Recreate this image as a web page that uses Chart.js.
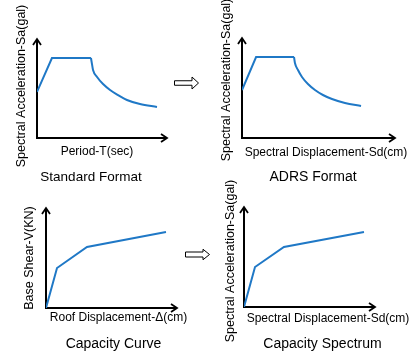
<!DOCTYPE html>
<html><head><meta charset="utf-8">
<script src="https://cdn.jsdelivr.net/npm/chart.js@4/dist/chart.umd.min.js"></script>
<style>
html,body{margin:0;padding:0;background:#fff;}
#wrap{position:relative;width:412px;height:360px;overflow:hidden;background:#fff;}
#wrap canvas{position:absolute;left:0;top:0;}
</style></head><body>
<div id="wrap">
<canvas id="c1" width="412" height="360"></canvas>
<canvas id="c2" width="412" height="360"></canvas>
<canvas id="c3" width="412" height="360"></canvas>
<canvas id="c4" width="412" height="360"></canvas>
</div>
<script>
// ---- data (schematic units, axis length = 10) ----
const standardPeriod = [0, 1.15, 4.15, 4.23, 4.31, 4.62, 5.08, 5.62, 6.23, 6.92, 7.92, 9.23];
const standardSa     = [4.65, 8.08, 8.08, 7.47, 6.87, 6.16, 5.45, 4.85, 4.34, 3.84, 3.43, 3.13];
const adrsSd         = [0, 0.92, 3.40, 3.46, 3.66, 3.92, 4.31, 4.77, 5.29, 5.88, 6.73, 7.78];
const adrsSa         = [4.8, 8.1, 8.1, 7.5, 6.8, 6.1, 5.4, 4.8, 4.3, 3.9, 3.5, 3.2];
const capacityRoofDisp  = [0, 0.84, 3.13, 9.16];
const capacityBaseShear = [0, 4.0, 6.1, 7.6];
const spectrumSd        = [0, 0.84, 3.05, 9.16];
const spectrumSa        = [0, 4.0, 6.0, 7.5];

const titles = {
  standard: {y: 'Spectral Acceleration-Sa(gal)', x: 'Period-T(sec)', caption: 'Standard Format'},
  adrs:     {y: 'Spectral Acceleration-Sa(gal)', x: 'Spectral Displacement-Sd(cm)', caption: 'ADRS Format'},
  capacity: {y: 'Base Shear-V(KN)', x: 'Roof Displacement-\u0394(cm)', caption: 'Capacity Curve'},
  spectrum: {y: 'Spectral Acceleration-Sa(gal)', x: 'Spectral Displacement-Sd(cm)', caption: 'Capacity Spectrum'}
};

const BLUE = '#1f78c6';
const FONT = '"Liberation Sans", Arial, sans-serif';

function pts(xs, ys, from, to) {
  const start = from === undefined ? 0 : from;
  const end = to === undefined ? xs.length : to;
  const out = [];
  for (let i = start; i < end; i++) out.push({x: xs[i], y: ys[i]});
  return out;
}

const schematic = {
  id: 'schematic',
  beforeDatasetsDraw(chart, args, o) {
    const ctx = chart.ctx, a = chart.chartArea;
    ctx.save();
    ctx.strokeStyle = '#000';
    ctx.lineWidth = 2;
    ctx.beginPath();
    ctx.moveTo(a.left, a.top);
    ctx.lineTo(a.left, a.bottom);
    ctx.lineTo(a.right, a.bottom);
    ctx.stroke();
    ctx.lineWidth = 1.8;
    ctx.beginPath();
    ctx.moveTo(a.left - 4, a.top + 6); ctx.lineTo(a.left, a.top); ctx.lineTo(a.left + 4, a.top + 6);
    ctx.moveTo(a.right - 6, a.bottom - 4); ctx.lineTo(a.right, a.bottom); ctx.lineTo(a.right - 6, a.bottom + 4);
    ctx.stroke();
    ctx.restore();
  },
  afterDraw(chart, args, o) {
    const ctx = chart.ctx;
    ctx.save();
    ctx.fillStyle = '#000';
    ctx.textAlign = 'center';
    ctx.textBaseline = 'middle';
    ctx.font = '12px ' + FONT;
    ctx.fillText(o.t.x, o.xPos[0], o.xPos[1]);
    ctx.save();
    ctx.font = '12.5px ' + FONT;
    ctx.translate(o.yPos[0], o.yPos[1]);
    ctx.rotate(-Math.PI / 2);
    ctx.fillText(o.t.y, 0, 0);
    ctx.restore();
    ctx.font = (o.capSize || 14) + 'px ' + FONT;
    ctx.fillText(o.t.caption, o.capPos[0], o.capPos[1]);
    if (o.block) {
      const b = o.block;
      ctx.beginPath();
      ctx.moveTo(b.x0, b.yc - b.sh / 2);
      ctx.lineTo(b.xh, b.yc - b.sh / 2);
      ctx.lineTo(b.xh, b.yc - b.hh / 2);
      ctx.lineTo(b.xt, b.yc);
      ctx.lineTo(b.xh, b.yc + b.hh / 2);
      ctx.lineTo(b.xh, b.yc + b.sh / 2);
      ctx.lineTo(b.x0, b.yc + b.sh / 2);
      ctx.closePath();
      ctx.fillStyle = '#fff';
      ctx.fill();
      ctx.strokeStyle = '#000';
      ctx.lineWidth = 1;
      ctx.stroke();
    }
    ctx.restore();
  }
};

function makeChart(id, datasets, pad, opts) {
  return new Chart(document.getElementById(id), {
    type: 'line',
    data: {datasets: datasets.map(d => Object.assign({
      borderColor: BLUE, borderWidth: 2, pointRadius: 0, fill: false, tension: 0
    }, d))},
    options: {
      responsive: false,
      animation: false,
      devicePixelRatio: 1,
      layout: {padding: pad},
      scales: {
        x: {type: 'linear', min: 0, max: 10, display: false},
        y: {type: 'linear', min: 0, max: 10, display: false}
      },
      plugins: {legend: {display: false}, tooltip: {enabled: false}, schematic: opts}
    },
    plugins: [schematic]
  });
}

makeChart('c1', [
  {data: pts(standardPeriod, standardSa, 0, 3)},
  {data: pts(standardPeriod, standardSa, 2), cubicInterpolationMode: 'monotone'}
], {left: 37, top: 39, right: 245, bottom: 222}, {
  t: titles.standard, xPos: [97, 152], yPos: [22, 86], capPos: [91, 177], capSize: 13.5,
  block: {x0: 174.5, xh: 192, xt: 198.5, yc: 83, sh: 4.5, hh: 12}
});

makeChart('c2', [
  {data: pts(adrsSd, adrsSa, 0, 3)},
  {data: pts(adrsSd, adrsSa, 2), cubicInterpolationMode: 'monotone'}
], {left: 242, top: 38, right: 17, bottom: 222}, {
  t: titles.adrs, xPos: [326, 153], yPos: [227, 80], capPos: [313, 177]
});

makeChart('c3', [
  {data: pts(capacityRoofDisp, capacityBaseShear)}
], {left: 46, top: 208, right: 235, bottom: 52}, {
  t: titles.capacity, xPos: [118.5, 318], yPos: [30, 258], capPos: [113.5, 344],
  block: {x0: 185.5, xh: 203, xt: 209.5, yc: 254.5, sh: 5, hh: 10.5}
});

makeChart('c4', [
  {data: pts(spectrumSd, spectrumSa)}
], {left: 244, top: 207, right: 37, bottom: 53}, {
  t: titles.spectrum, xPos: [328, 319], yPos: [231, 261], capPos: [322.5, 344]
});
</script>
</body></html>
